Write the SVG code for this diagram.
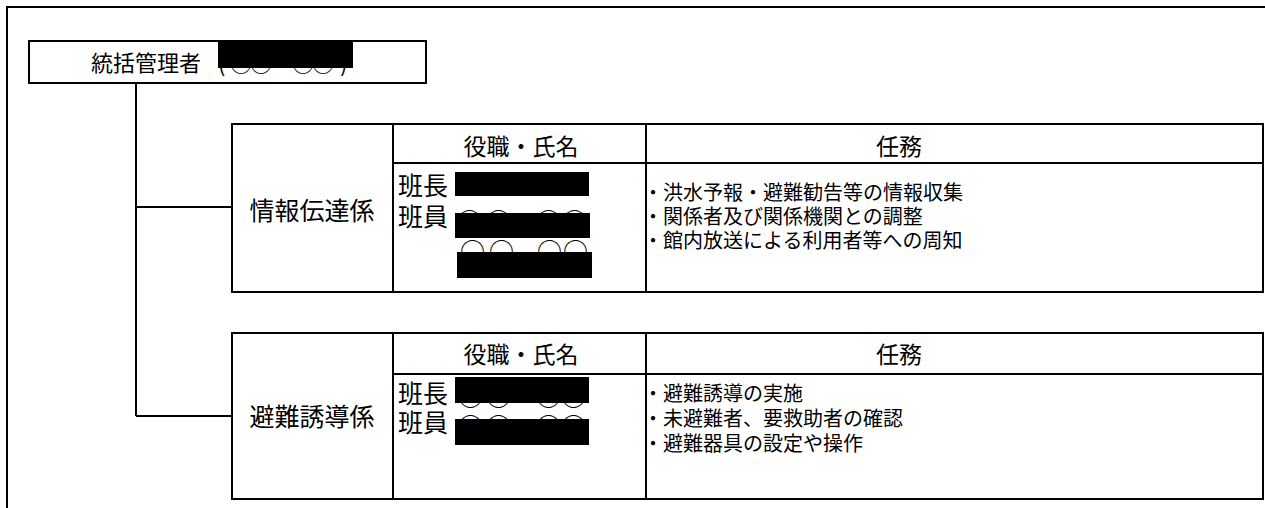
<svg xmlns="http://www.w3.org/2000/svg" width="1265" height="508" viewBox="0 0 1265 508">
<style>
text{font-family:"Noto Sans CJK JP","Noto Sans CJK SC",sans-serif;fill:#000}
.ln{stroke:#000;stroke-width:2;fill:none}
.box{stroke:#000;stroke-width:2;fill:#fff}
.red{fill:#000}
.h{font-size:23px;text-anchor:middle}
.g{font-size:25px;text-anchor:middle}
.m{font-size:25px}
.t{font-size:20px}
.c{font-size:25px}
</style>
<rect width="1265" height="508" fill="#fff"/>
<g id="frame">
<path class="ln" d="M7,508 V7 H1265"/>
</g>
<g id="connectors">
<path class="ln" d="M136,83 V416 M136,207 H232 M136,416 H232"/>
</g>
<g id="manager">
<rect class="box" x="29" y="41" width="397" height="42"/>
<text x="91" y="71" style="font-size:22px">統括管理者</text>
<text x="218 230 250 268 292 312 340" y="72" style="font-size:22px">(○○ ○○)</text>
<rect class="red" x="218" y="42" width="135" height="26"/>
</g>
<g id="info">
<rect class="box" x="232" y="124" width="1031" height="168"/>
<path class="ln" d="M393,124 V292 M646,124 V292 M393,163 H1263"/>
<text class="g" x="312" y="220">情報伝達係</text>
<text class="h" x="521" y="155">役職・氏名</text>
<text class="h" x="899" y="155">任務</text>
<text class="m" x="398" y="195">班長</text>
<text class="m" x="398" y="226">班員</text>
<text class="c" x="457 486 536 562" y="231">○○○○</text>
<text class="c" x="460 489 537 563" y="261">○○○○</text>
<rect class="red" x="455" y="172" width="134" height="24"/>
<rect class="red" x="455" y="213" width="135" height="25"/>
<rect class="red" x="457" y="252" width="135" height="26"/>
<text class="t" x="643" y="200">・洪水予報・避難勧告等の情報収集</text>
<text class="t" x="643" y="224">・関係者及び関係機関との調整</text>
<text class="t" x="643" y="248">・館内放送による利用者等への周知</text>
</g>
<g id="evac">
<rect class="box" x="232" y="333" width="1031" height="166"/>
<path class="ln" d="M393,333 V499 M646,333 V499 M393,374 H1263"/>
<text class="g" x="312" y="426">避難誘導係</text>
<text class="h" x="521" y="363">役職・氏名</text>
<text class="h" x="899" y="363">任務</text>
<text class="m" x="398" y="403">班長</text>
<text class="m" x="398" y="432">班員</text>
<text class="c" x="458 486 536 561" y="406">○○○○</text>
<text class="c" x="458 486 536 561" y="436">○○○○</text>
<rect class="red" x="455" y="377" width="134" height="26"/>
<rect class="red" x="455" y="419" width="134" height="26"/>
<text class="t" x="643" y="401">・避難誘導の実施</text>
<text class="t" x="643" y="426">・未避難者、要救助者の確認</text>
<text class="t" x="643" y="451">・避難器具の設定や操作</text>
</g>
</svg>
